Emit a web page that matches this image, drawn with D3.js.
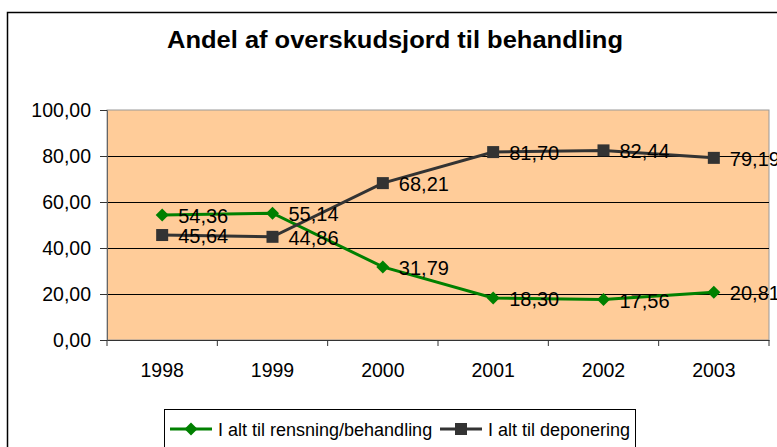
<!DOCTYPE html>
<html><head><meta charset="utf-8">
<script src="https://cdn.jsdelivr.net/npm/d3@7"></script>
<style>body{margin:0;background:#fff;}svg{display:block;font-family:Arial,"Liberation Sans",sans-serif;}</style>
</head><body>
<svg id="c" width="777" height="447"></svg>
<script>
const years = ["1998","1999","2000","2001","2002","2003"];
const rensning = [54.36, 55.14, 31.79, 18.30, 17.56, 20.81];
const deponering = [45.64, 44.86, 68.21, 81.70, 82.44, 79.19];
const seriesNames = ["I alt til rensning/behandling", "I alt til deponering"];
const yTicks = [0, 20, 40, 60, 80, 100];
const title = "Andel af overskudsjord til behandling";

const svg = d3.select("#c");
const fmt = v => v.toFixed(2).replace(".", ",");
const L = 107, R = 769, T = 110, B = 340;
const FF = "Arial, 'Liberation Sans', sans-serif";

// outer chart border
svg.append("rect").attr("x", 7.5).attr("y", 12.5).attr("width", 800).attr("height", 500)
  .attr("fill", "#fff").attr("stroke", "#000").attr("stroke-width", 1.5);

svg.append("text").attr("x", 167).attr("y", 48)
  .attr("font-size", 23).attr("font-weight", "bold")
  .attr("textLength", 456).attr("lengthAdjust", "spacingAndGlyphs").text(title);

const x = d3.scaleBand().domain(years).range([L, R]);
const y = d3.scaleLinear().domain([0, 100]).range([B, T]);

svg.append("rect").attr("x", L).attr("y", T).attr("width", R - L).attr("height", B - T)
  .attr("fill", "#FFCC99").attr("stroke", "#999").attr("stroke-width", 1);

svg.append("g").selectAll("line").data(yTicks.filter(d => d > 0 && d < 100)).join("line")
  .attr("x1", L).attr("x2", R).attr("y1", d => Math.round(y(d)) + 0.5).attr("y2", d => Math.round(y(d)) + 0.5)
  .attr("stroke", "#000").attr("stroke-width", 1);

const yAxis = svg.append("g").attr("transform", `translate(${L},0)`)
  .call(d3.axisLeft(y).tickValues(yTicks).tickFormat(fmt).tickSize(7).tickPadding(9));
yAxis.select(".domain").attr("stroke", "#666");
yAxis.selectAll(".tick line").attr("stroke", "#333");
yAxis.selectAll("text").attr("font-size", 19.5).attr("fill", "#000").attr("font-family", FF);

const xAxis = svg.append("g").attr("transform", `translate(0,${B})`)
  .call(d3.axisBottom(x).tickSize(0).tickPadding(23));
xAxis.select(".domain").attr("stroke", "#333");
xAxis.selectAll("text").attr("font-size", 19.5).attr("fill", "#000").attr("font-family", FF);
svg.append("g").selectAll("line").data(years.concat(["end"])).join("line")
  .attr("x1", (d, i) => L + i * x.step()).attr("x2", (d, i) => L + i * x.step())
  .attr("y1", B).attr("y2", B + 6).attr("stroke", "#333");

const cx = d => x(d) + x.bandwidth() / 2;
const line = d3.line().x((d, i) => cx(years[i])).y(d => y(d));

const series = [
  {vals: rensning, color: "#008000", shape: "diamond"},
  {vals: deponering, color: "#333333", shape: "square"}
];

function marker(g, shape, color, px, py) {
  if (shape === "diamond") {
    g.append("path").attr("d", `M${px},${py-6.5}L${px+6.5},${py}L${px},${py+6.5}L${px-6.5},${py}Z`).attr("fill", color);
  } else {
    g.append("rect").attr("x", px - 6).attr("y", py - 6).attr("width", 12).attr("height", 12).attr("fill", color);
  }
}

series.forEach(s => {
  svg.append("path").datum(s.vals).attr("d", line).attr("fill", "none")
    .attr("stroke", s.color).attr("stroke-width", 3);
});
series.forEach(s => {
  const g = svg.append("g");
  s.vals.forEach((v, i) => marker(g, s.shape, s.color, cx(years[i]), y(v)));
});
series.forEach(s => {
  svg.append("g").selectAll("text").data(s.vals).join("text")
    .attr("x", (d, i) => cx(years[i]) + 16).attr("y", d => y(d) + 8)
    .attr("font-size", 20).attr("fill", "#000").text(fmt);
});

// legend
const lg = svg.append("g");
lg.append("rect").attr("x", 164.5).attr("y", 409.5).attr("width", 471).attr("height", 50)
  .attr("fill", "#fff").attr("stroke", "#000").attr("stroke-width", 1);
const lx = [170, 440];
series.forEach((s, i) => {
  lg.append("line").attr("x1", lx[i]).attr("x2", lx[i] + 42).attr("y1", 429).attr("y2", 429)
    .attr("stroke", s.color).attr("stroke-width", 3);
  marker(lg, s.shape, s.color, lx[i] + 21, 429);
  lg.append("text").attr("x", lx[i] + 48).attr("y", 436).attr("font-size", 18).text(seriesNames[i]);
});
</script>
</body></html>
